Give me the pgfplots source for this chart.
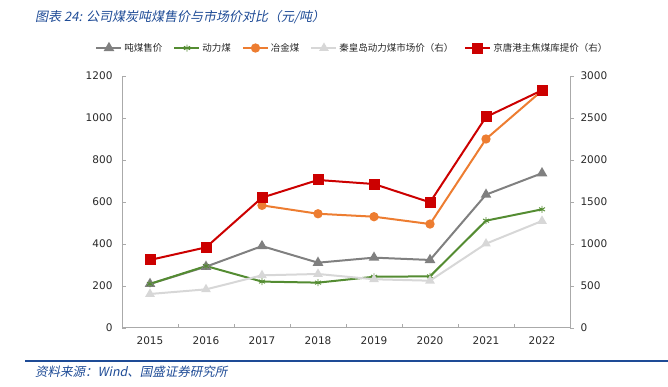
\documentclass[border=0pt]{standalone}
\usepackage{pgfplots}
\pgfplotsset{compat=1.18}
\usepackage{fontspec}
\setmainfont{DejaVu Sans}
\newfontfamily\cjk{Noto Sans CJK SC}
\newfontfamily\cjkit{Noto Sans CJK SC}[FakeSlant=0.2]
\definecolor{cgray}{RGB}{128,128,128}
\definecolor{cgreen}{RGB}{84,140,50}
\definecolor{corange}{RGB}{237,125,49}
\definecolor{clight}{RGB}{215,215,215}
\definecolor{cred}{RGB}{204,0,0}
\definecolor{axgray}{RGB}{170,170,170}
\definecolor{txtgray}{RGB}{40,40,40}
\definecolor{tblue}{RGB}{30,75,150}
\pgfplotsset{
  every axis/.append style={
    scale only axis, width=448pt, height=252pt,
    at={(122pt,59pt)}, anchor=south west,
    xmin=-0.5, xmax=7.5,
    /pgf/number format/assume math mode=true,
    /pgf/number format/set thousands separator={},
    ticklabel style={font=\fontsize{10.5}{12}\selectfont, text=txtgray},
    axis line style={draw=axgray, line width=1pt, -},
    tick style={draw=axgray, line width=0.8pt},
    major tick length=4pt, minor tick length=4pt,
  },
  legline/.style={legend image code/.code={
    \draw[mark repeat=2,mark phase=2,##1] plot coordinates {(0pt,0pt)(12.5pt,0pt)(25pt,0pt)};}},
}
\begin{document}
\begin{tikzpicture}
\path[use as bounding box] (0,0) rectangle (668pt,387pt);
\begin{axis}[
  ymin=0, ymax=1200, ytick={0,200,...,1200},
  xtick={0,...,7}, xticklabels={2015,2016,2017,2018,2019,2020,2021,2022},
  major x tick style={draw=none},
  minor xtick={-0.5,0.5,...,7.5},
  axis x line*=bottom, axis y line*=left,
  tick align=inside,
  xticklabel style={yshift=-5pt},
  yticklabel style={xshift=-6pt},
  legend columns=5,
  legend style={at={(0.5145,1.111)}, anchor=center, draw=none, fill=none,
    font=\cjk\fontsize{9.5}{11}\selectfont, text=txtgray,
    /tikz/every even column/.append style={column sep=9pt}},
  legend cell align=left,
  legline,
]
\addplot[cgray, line width=2pt, mark=triangle*, mark size=4.2pt, mark options={fill=cgray}]
 coordinates {(0,210)(1,292)(2,390)(3,311)(4,335)(5,324)(6,635)(7,737)};
\addlegendentry{吨煤售价}
\addplot[cgreen, line width=2pt, mark=asterisk, mark size=3.5pt, mark options={line width=0.9pt}]
 coordinates {(0,210)(1,295)(2,221)(3,216)(4,244)(5,246)(6,511)(7,565)};
\addlegendentry{动力煤}
\addplot[corange, line width=2pt, mark=*, mark size=3.6pt, mark options={fill=corange}]
 coordinates {(2,584)(3,544)(4,530)(5,495)(6,900)(7,1130)};
\addlegendentry{冶金煤}
\addlegendimage{clight, line width=2pt, mark=triangle*, mark size=3.6pt, mark options={fill=clight}}
\addlegendentry{秦皇岛动力煤市场价（右）}
\addlegendimage{cred, line width=2pt, mark=square*, mark size=4.5pt, mark options={fill=cred}}
\addlegendentry{京唐港主焦煤库提价（右）}
\end{axis}
\begin{axis}[
  ymin=0, ymax=3000, ytick={0,500,...,3000},
  axis x line=none, axis y line*=right,
  tick align=outside,
  yticklabel style={xshift=3pt},
]
\addplot[clight, line width=2pt, mark=triangle*, mark size=3.6pt, mark options={fill=clight}]
 coordinates {(0,405)(1,460)(2,627)(3,643)(4,580)(5,563)(6,1004)(7,1274)};
\addplot[cred, line width=2pt, mark=square*, mark size=4.5pt, mark options={fill=cred}]
 coordinates {(0,810)(1,960)(2,1552)(3,1762)(4,1714)(5,1496)(6,2512)(7,2830)};
\end{axis}
\node[anchor=west, text=tblue, font=\cjkit\fontsize{13}{15}\selectfont, inner sep=0pt] at (35pt,370pt) {图表 24: 公司煤炭吨煤售价与市场价对比（元/吨）};
\draw[tblue, line width=1.5pt] (25pt,26pt) -- (668pt,26pt);
\node[anchor=west, text=tblue, font=\cjkit\fontsize{12.5}{14}\selectfont, inner sep=0pt] at (35pt,15pt) {资料来源：Wind、国盛证券研究所};
\end{tikzpicture}
\end{document}
